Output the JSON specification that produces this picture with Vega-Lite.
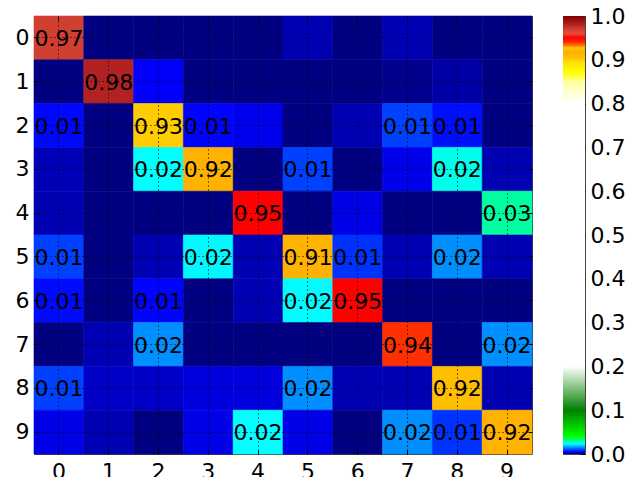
{
  "$schema": "https://vega.github.io/schema/vega-lite/v6.json",
  "padding": {"left": 14, "top": 4, "right": 0, "bottom": 0},
  "background": "white",
  "bounds": "flush",
  "spacing": 31,
  "config": {
    "axis": {"labelFont": "DejaVu Sans", "labelFontSize": 22, "labelColor": "black", "tickColor": "black", "domain": false, "title": null},
    "view": {"stroke": "#444", "strokeWidth": 1}
  },
  "hconcat": [
    {
      "width": 498,
      "height": 438,
      "data": {"values": [
        {"r":0,"c":0,"v":0.97},{"r":0,"c":1,"v":0},{"r":0,"c":2,"v":0},{"r":0,"c":3,"v":0},{"r":0,"c":4,"v":0},{"r":0,"c":5,"v":0.002},{"r":0,"c":6,"v":0},{"r":0,"c":7,"v":0.002},{"r":0,"c":8,"v":0},{"r":0,"c":9,"v":0},
        {"r":1,"c":0,"v":0},{"r":1,"c":1,"v":0.98},{"r":1,"c":2,"v":0.0048},{"r":1,"c":3,"v":0},{"r":1,"c":4,"v":0},{"r":1,"c":5,"v":0},{"r":1,"c":6,"v":0},{"r":1,"c":7,"v":0.0005},{"r":1,"c":8,"v":0.0015},{"r":1,"c":9,"v":0},
        {"r":2,"c":0,"v":0.0055},{"r":2,"c":1,"v":0},{"r":2,"c":2,"v":0.927},{"r":2,"c":3,"v":0.0052},{"r":2,"c":4,"v":0.0043},{"r":2,"c":5,"v":0},{"r":2,"c":6,"v":0.002},{"r":2,"c":7,"v":0.0095},{"r":2,"c":8,"v":0.006},{"r":2,"c":9,"v":0},
        {"r":3,"c":0,"v":0.0022},{"r":3,"c":1,"v":0},{"r":3,"c":2,"v":0.023},{"r":3,"c":3,"v":0.918},{"r":3,"c":4,"v":0},{"r":3,"c":5,"v":0.0095},{"r":3,"c":6,"v":0},{"r":3,"c":7,"v":0.0042},{"r":3,"c":8,"v":0.0245},{"r":3,"c":9,"v":0.002},
        {"r":4,"c":0,"v":0.002},{"r":4,"c":1,"v":0},{"r":4,"c":2,"v":0},{"r":4,"c":3,"v":0},{"r":4,"c":4,"v":0.95},{"r":4,"c":5,"v":0},{"r":4,"c":6,"v":0.004},{"r":4,"c":7,"v":0},{"r":4,"c":8,"v":0},{"r":4,"c":9,"v":0.03},
        {"r":5,"c":0,"v":0.0095},{"r":5,"c":1,"v":0},{"r":5,"c":2,"v":0.002},{"r":5,"c":3,"v":0.0225},{"r":5,"c":4,"v":0.002},{"r":5,"c":5,"v":0.913},{"r":5,"c":6,"v":0.0085},{"r":5,"c":7,"v":0.002},{"r":5,"c":8,"v":0.0151},{"r":5,"c":9,"v":0.002},
        {"r":6,"c":0,"v":0.0057},{"r":6,"c":1,"v":0},{"r":6,"c":2,"v":0.0052},{"r":6,"c":3,"v":0},{"r":6,"c":4,"v":0.002},{"r":6,"c":5,"v":0.0228},{"r":6,"c":6,"v":0.95},{"r":6,"c":7,"v":0},{"r":6,"c":8,"v":0},{"r":6,"c":9,"v":0},
        {"r":7,"c":0,"v":0},{"r":7,"c":1,"v":0.002},{"r":7,"c":2,"v":0.0151},{"r":7,"c":3,"v":0},{"r":7,"c":4,"v":0},{"r":7,"c":5,"v":0},{"r":7,"c":6,"v":0},{"r":7,"c":7,"v":0.94},{"r":7,"c":8,"v":0},{"r":7,"c":9,"v":0.0151},
        {"r":8,"c":0,"v":0.0095},{"r":8,"c":1,"v":0.0028},{"r":8,"c":2,"v":0.0028},{"r":8,"c":3,"v":0.0037},{"r":8,"c":4,"v":0.0037},{"r":8,"c":5,"v":0.0151},{"r":8,"c":6,"v":0.002},{"r":8,"c":7,"v":0.002},{"r":8,"c":8,"v":0.924},{"r":8,"c":9,"v":0.002},
        {"r":9,"c":0,"v":0.004},{"r":9,"c":1,"v":0.002},{"r":9,"c":2,"v":0},{"r":9,"c":3,"v":0.004},{"r":9,"c":4,"v":0.023},{"r":9,"c":5,"v":0.004},{"r":9,"c":6,"v":0},{"r":9,"c":7,"v":0.0151},{"r":9,"c":8,"v":0.0085},{"r":9,"c":9,"v":0.92}
      ]},
      "resolve": {"axis": {"x": "independent", "y": "independent"}},
      "layer": [
        {
          "mark": {"type": "rect", "strokeWidth": 0.6},
          "encoding": {
            "x": {"field": "c", "type": "ordinal", "axis": {"orient": "bottom", "labelAngle": 0, "tickSize": -4, "labelPadding": 11, "grid": true, "gridColor": "black", "gridDash": [1, 3], "gridWidth": 1, "zindex": 1}},
            "y": {"field": "r", "type": "ordinal", "axis": {"orient": "left", "tickSize": -4, "labelPadding": 9, "grid": true, "gridColor": "black", "gridDash": [1, 3], "gridWidth": 1, "zindex": 1}},
            "color": {
              "field": "v", "type": "quantitative", "legend": null,
              "scale": {
                "interpolate": "rgb",
                "domain": [0, 0.005, 0.023, 0.03, 0.04, 0.07, 0.1, 0.2, 0.8, 0.85, 0.87, 0.895, 0.905, 0.915, 0.922, 0.927, 0.932, 0.94, 0.95, 0.96, 0.97, 0.98, 1],
                "range": ["#000080", "#0000ff", "#00ffff", "#00ffa0", "#00ff00", "#00c000", "#008000", "#ffffff", "#ffffff", "#ffffa0", "#ffff00", "#ffe000", "#ffc000", "#ffb000", "#ffb400", "#ffcc00", "#ff8000", "#ff3000", "#ff0000", "#e84a3a", "#d13f31", "#b22222", "#800000"]
              }
            },
            "stroke": {
              "field": "v", "type": "quantitative", "legend": null,
              "scale": {
                "interpolate": "rgb",
                "domain": [0, 0.005, 0.023, 0.03, 0.04, 0.07, 0.1, 0.2, 0.8, 0.85, 0.87, 0.895, 0.905, 0.915, 0.922, 0.927, 0.932, 0.94, 0.95, 0.96, 0.97, 0.98, 1],
                "range": ["#000080", "#0000ff", "#00ffff", "#00ffa0", "#00ff00", "#00c000", "#008000", "#ffffff", "#ffffff", "#ffffa0", "#ffff00", "#ffe000", "#ffc000", "#ffb000", "#ffb400", "#ffcc00", "#ff8000", "#ff3000", "#ff0000", "#e84a3a", "#d13f31", "#b22222", "#800000"]
              }
            }
          }
        },
        {
          "transform": [{"filter": "datum.v >= 0.005"}],
          "mark": {"type": "text", "font": "DejaVu Sans", "fontSize": 22, "color": "black", "align": "center", "baseline": "middle", "dy": 1},
          "encoding": {
            "x": {"field": "c", "type": "ordinal", "axis": null},
            "y": {"field": "r", "type": "ordinal", "axis": null},
            "text": {"field": "v", "type": "quantitative", "format": ".2f"}
          }
        },
        {
          "mark": {"type": "rect", "opacity": 0},
          "encoding": {
            "x": {"field": "c", "type": "ordinal", "axis": {"orient": "top", "labels": false, "tickSize": -4, "grid": false, "zindex": 1}},
            "y": {"field": "r", "type": "ordinal", "axis": {"orient": "right", "labels": false, "tickSize": -4, "grid": false, "zindex": 1}}
          }
        }
      ]
    },
    {
      "width": 22,
      "height": 438,
      "view": {"stroke": "#444", "strokeWidth": 1},
      "data": {"values": [{"lo": 0, "hi": 1, "a": 0, "b": 1}]},
      "mark": {
        "type": "rect",
        "color": {
          "gradient": "linear", "x1": 0, "y1": 1, "x2": 0, "y2": 0,
          "stops": [
            {"offset": 0, "color": "#000080"},
            {"offset": 0.005, "color": "#0000ff"},
            {"offset": 0.023, "color": "#00ffff"},
            {"offset": 0.03, "color": "#00ffa0"},
            {"offset": 0.04, "color": "#00ff00"},
            {"offset": 0.07, "color": "#00c000"},
            {"offset": 0.1, "color": "#008000"},
            {"offset": 0.2, "color": "#ffffff"},
            {"offset": 0.8, "color": "#ffffff"},
            {"offset": 0.85, "color": "#ffffa0"},
            {"offset": 0.87, "color": "#ffff00"},
            {"offset": 0.895, "color": "#ffe000"},
            {"offset": 0.905, "color": "#ffc000"},
            {"offset": 0.915, "color": "#ffb000"},
            {"offset": 0.922, "color": "#ffb400"},
            {"offset": 0.927, "color": "#ffcc00"},
            {"offset": 0.932, "color": "#ff8000"},
            {"offset": 0.94, "color": "#ff3000"},
            {"offset": 0.95, "color": "#ff0000"},
            {"offset": 0.96, "color": "#e84a3a"},
            {"offset": 0.97, "color": "#d13f31"},
            {"offset": 0.98, "color": "#b22222"},
            {"offset": 1, "color": "#800000"}
          ]
        }
      },
      "encoding": {
        "x": {"field": "a", "type": "quantitative", "scale": {"domain": [0, 1], "nice": false}, "axis": null},
        "x2": {"field": "b"},
        "y": {"field": "lo", "type": "quantitative", "scale": {"domain": [0, 1], "nice": false},
              "axis": {"orient": "right", "values": [0, 0.1, 0.2, 0.3, 0.4, 0.5, 0.6, 0.7, 0.8, 0.9, 1], "format": ".1f", "tickSize": -5, "labelPadding": 10, "grid": false}},
        "y2": {"field": "hi"}
      }
    }
  ]
}
